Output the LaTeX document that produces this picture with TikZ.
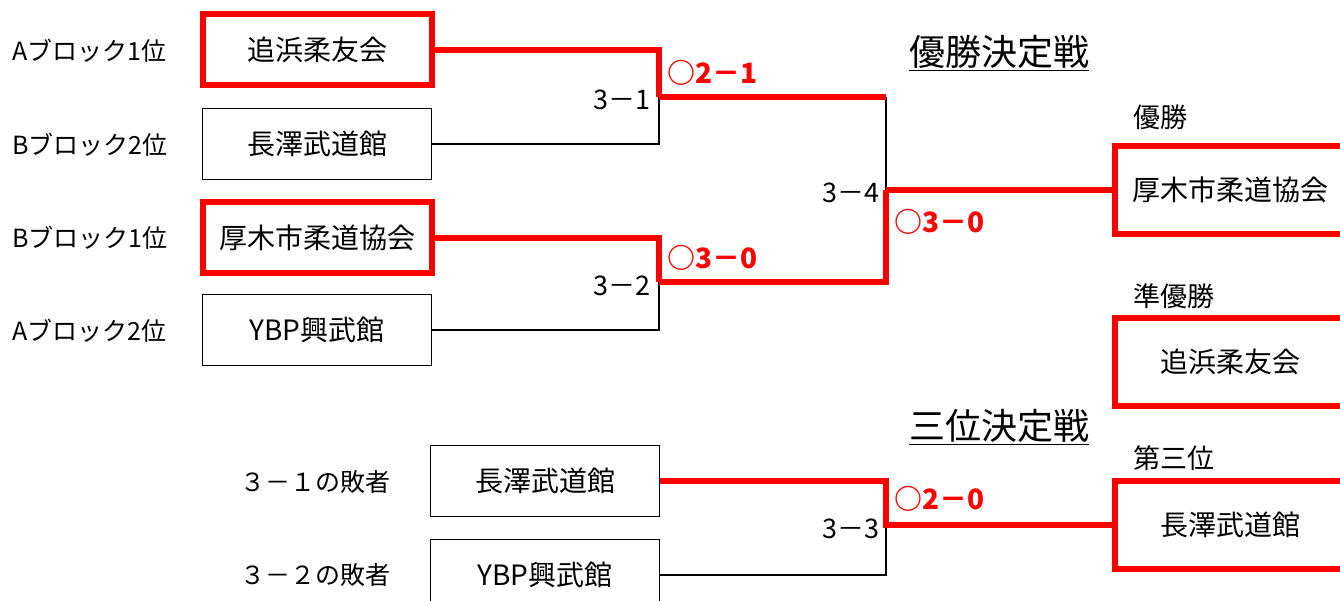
\documentclass[tikz,border=0pt]{standalone}
\usepackage{fontspec}
\setmainfont{Noto Sans CJK JP}
\usepackage{tikz}
\usetikzlibrary{positioning}
\usepackage{xcolor}
\definecolor{brred}{RGB}{255,0,0}
\tikzstyle{team} = [draw, line width=1.5pt, minimum width=229pt, minimum height=71pt, inner sep=0pt, font=\fontsize{28}{30}\selectfont]
\tikzstyle{winbox} = [team, draw=brred, line width=6pt]
\tikzstyle{rankbox} = [winbox, minimum width=230pt, minimum height=88pt]
\tikzstyle{thinline} = [line width=1.5pt]
\tikzstyle{redline} = [line width=6pt, color=brred]
\tikzstyle{seed} = [anchor=west, inner sep=0pt, font=\fontsize{25}{27}\selectfont]
\tikzstyle{score} = [anchor=east, inner sep=0pt, font=\fontsize{27}{29}\selectfont]
\tikzstyle{result} = [anchor=west, inner sep=0pt, text=brred, font=\fontsize{28}{30}\selectfont\bfseries]
\tikzstyle{heading} = [anchor=west, inner sep=0pt, font=\fontsize{36}{38}\selectfont]
\tikzstyle{rank} = [anchor=west, inner sep=0pt, font=\fontsize{27}{29}\selectfont]

\begin{document}
\begin{tikzpicture}[x=1pt, y=-1pt]
\clip (0,0) rectangle (1340,601);
\fill[white] (0,0) rectangle (1340,601);

% Seeds
\node[seed] (s1) at (12,51) {Aブロック1位};
\node[seed] (s2) at (12,145) {Bブロック2位};
\node[seed] (s3) at (12,238) {Bブロック1位};
\node[seed] (s4) at (12,331) {Aブロック2位};

% First round
\node[winbox] (t1) at (317,50) {追浜柔友会};
\node[team] (t2) at (317,144) {長澤武道館};
\node[winbox] (t3) at (317,238) {厚木市柔道協会};
\node[team] (t4) at (317,330) {YBP興武館};

\coordinate (m31) at (659,97);
\coordinate (m32) at (659,282);
\coordinate (m34) at (886,190);

\draw[thinline] (t2.east) -| (m31);
\draw[thinline] (t4.east) -| (m32);
\draw[redline] (t1.east) -| (m31);
\draw[redline] (t3.east) -| (m32);

\node[score] (sc31) at (651,100) {3－1};
\node[score] (sc32) at (651,286) {3－2};
\node[result] (r31) at (667,73) {○2－1};
\node[result] (r32) at (667,258) {○3－0};

% Final
\node[heading] (final) at (909,53) {\underline{優勝決定戦}};
\draw[thinline] (m31 -| m34) -- (m34);
\draw[redline] (m31) -- (m31 -| m34);
\draw[redline] (m32) -| (m34);
\node[score] (sc34) at (880,193) {3－4};
\node[result] (r34) at (894,222) {○3－0};

% Ranking
\node[rank] (lab1) at (1133,117) {優勝};
\node[rankbox] (champ) at (1230,190) {厚木市柔道協会};
\node[rank] (lab2) at (1133,296) {準優勝};
\node[rankbox] (second) at (1230,362) {追浜柔友会};
\node[rank] (lab3) at (1133,458) {第三位};
\node[rankbox] (third) at (1230,525) {長澤武道館};
\draw[redline] (m34) -- (champ.west);

% Third place
\node[heading] (bronze) at (909,427) {\underline{三位決定戦}};
\node[seed] (l1) at (240,482) {３－１の敗者};
\node[seed] (l2) at (240,575) {３－２の敗者};
\node[team] (b1) at (545,481) {長澤武道館};
\node[team] (b2) at (545,575) {YBP興武館};

\coordinate (m33) at (886,525);
\draw[thinline] (b2.east) -| (m33);
\draw[redline] (b1.east) -| (m33) -- (third.west);
\node[score] (sc33) at (880,529) {3－3};
\node[result] (r33) at (894,499) {○2－0};
\end{tikzpicture}
\end{document}
